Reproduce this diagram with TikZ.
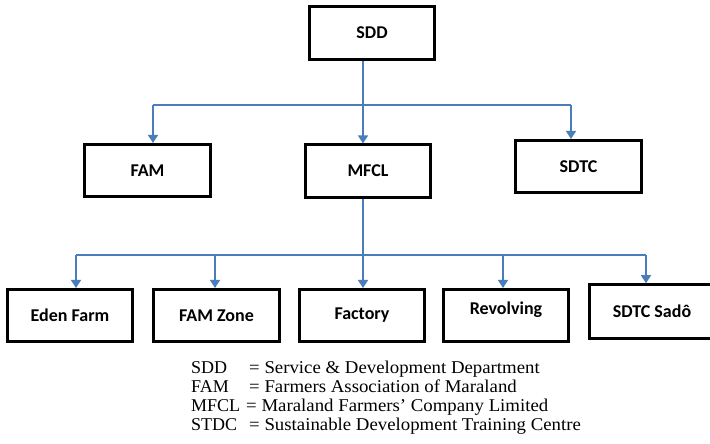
\documentclass[tikz,border=0pt]{standalone}
\usepackage{fontspec}
\usetikzlibrary{arrows.meta}
\newfontfamily\boxfont{Carlito}
\newfontfamily\legfont{Liberation Serif}
\definecolor{conn}{HTML}{4A7EBB}
\newcommand{\legwide}[1]{\scalebox{1.045}[1]{#1}}
\begin{document}
\begin{tikzpicture}[x=1pt,y=-1pt,
  orgbox/.style={draw=black, line width=2.6pt, minimum width=125.5pt, minimum height=52.5pt, inner sep=0pt,
    font=\boxfont\bfseries\fontsize{18}{20}\selectfont},
  link/.style={draw=conn, line width=1.4pt},
  arr/.style={link, -{Triangle[length=8pt,width=10pt]}},
  legend/.style={inner sep=0pt, anchor=base west, font=\legfont\fontsize{18}{19}\selectfont}]
\path[use as bounding box, clip] (0,0) rectangle (710,444);
\fill[white] (0,0) rectangle (710,444);

% boxes
\node[orgbox] (SDD) at (372,33) {SDD};
\node[orgbox] (FAM) at (147.5,170.5) {FAM};
\node[orgbox] (MFCL) at (368,171) {MFCL};
\node[orgbox] (SDTC) at (578.5,166.5) {SDTC};
\node[orgbox] (Eden) at (70,315.5) {Eden Farm};
\node[orgbox] (Zone) at (216.5,315.5) {FAM Zone};
\node[orgbox] (Factory) at (362,315.5) {Factory};
\node[orgbox] (Revolving) at (506,315.5) {\raisebox{15pt}{Revolving}};
\node[orgbox, minimum height=54pt] (Sado) at (652,311.5) {SDTC Sadô};

% first level connectors
\coordinate (t1) at (363,105);
\coordinate (t1L) at (153,105);
\coordinate (t1R) at (571,105);
\draw[link] (t1L) -- (t1R);
\draw[arr] (SDD.south -| t1) -- (MFCL.north -| t1);
\draw[arr] (t1L) -- (t1L |- FAM.north);
\draw[arr] (t1R) -- (t1R |- SDTC.north);

% second level connectors
\coordinate (t2) at (363,255);
\coordinate (t2L) at (76,255);
\coordinate (t2a) at (215,255);
\coordinate (t2b) at (503,255);
\coordinate (t2R) at (646,255);
\draw[link] (t2L) -- (t2R);
\draw[arr] (MFCL.south -| t2) -- (Factory.north -| t2);
\draw[arr] (t2L) -- (t2L |- Eden.north);
\draw[arr] (t2a) -- (t2a |- Zone.north);
\draw[arr] (t2b) -- (t2b |- Revolving.north);
\draw[arr] (t2R) -- (t2R |- Sado.north);

% legend
\node[legend] (kSDD) at (191,373) {SDD};
\node[legend] (vSDD) at (249,373) {\legwide{= Service \& Development Department}};
\node[legend] (kFAM) at (191,392) {FAM};
\node[legend] (vFAM) at (249,392) {\legwide{= Farmers Association of Maraland}};
\node[legend] (kMFCL) at (191,411) {MFCL};
\node[legend] (vMFCL) at (246,411) {\legwide{= Maraland Farmers’ Company Limited}};
\node[legend] (kSTDC) at (191,430) {STDC};
\node[legend] (vSTDC) at (249,430) {\legwide{= Sustainable Development Training Centre}};
\end{tikzpicture}
\end{document}
